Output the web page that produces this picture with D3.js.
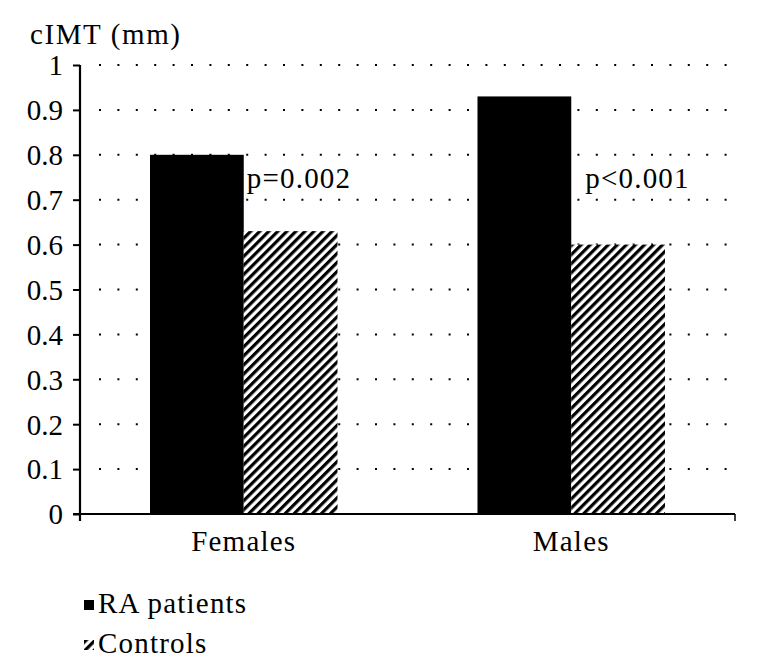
<!DOCTYPE html>
<html><head><meta charset="utf-8">
<script src="https://cdn.jsdelivr.net/npm/d3@7"></script>
<style>body{margin:0;background:#fff}svg{display:block}</style>
</head><body>
<script>
const categories = ["Females", "Males"];
const seriesNames = ["RA patients", "Controls"];
const raValues = [0.80, 0.93];
const controlValues = [0.63, 0.60];
const pLabels = ["p=0.002", "p<0.001"];
const yTicks = [0, 0.1, 0.2, 0.3, 0.4, 0.5, 0.6, 0.7, 0.8, 0.9, 1];

(function(){
const W = 757, H = 671;
const FONT = "'Liberation Serif', 'Times New Roman', serif";
const FS = "29px";
const svg = d3.select("body").append("svg").attr("width", W).attr("height", H)
  .attr("font-family", FONT);
const defs = svg.append("defs");
const pat = defs.append("pattern").attr("id","hatch").attr("patternUnits","userSpaceOnUse")
  .attr("width",6.4).attr("height",6.4).attr("patternTransform","rotate(45)");
pat.append("rect").attr("width",6.4).attr("height",6.4).attr("fill","#fff");
pat.append("line").attr("x1",1.6).attr("y1",0).attr("x2",1.6).attr("y2",6.4).attr("stroke","#000").attr("stroke-width",3.2);

const mLeft = 80, mRight = 735, mTop = 65, mBottom = 514;
const y = d3.scaleLinear().domain([0,1]).range([mBottom, mTop]);
const x0 = d3.scaleBand().domain(categories).range([mLeft, mRight]).paddingInner(0).paddingOuter(0);
const x1 = d3.scaleBand().domain(seriesNames).range([70, x0.bandwidth()-70]);

function txt(sel, ls){ return sel.attr("font-family", FONT).style("font-family", FONT).style("font-size", FS)
  .style("letter-spacing", (ls==null?1.2:ls)+"px").attr("fill","#000"); }

// gridlines
svg.append("g").selectAll("line").data(yTicks.filter(d=>d>0)).join("line")
  .attr("x1", mLeft+19).attr("x2", mRight).attr("y1", d=>y(d)).attr("y2", d=>y(d))
  .attr("stroke","#000").attr("stroke-width",2).attr("stroke-dasharray","2,16.4");

const data = categories.map((c,i)=>({cat:c, vals:[raValues[i], controlValues[i]]}));
const g = svg.append("g");
data.forEach(d=>{
  d.vals.forEach((v,j)=>{
    g.append("rect").attr("x", x0(d.cat)+x1(seriesNames[j])).attr("y", y(v))
      .attr("width", x1.bandwidth()).attr("height", mBottom - y(v))
      .attr("fill", j===0 ? "#000" : "url(#hatch)");
  });
});

// y axis
const yAxis = d3.axisLeft(y).tickValues(yTicks).tickSize(7).tickFormat(d=>d===0?"0":d===1?"1":d3.format(".1f")(d));
const ya = svg.append("g").attr("transform",`translate(${mLeft},0)`).call(yAxis);
ya.attr("font-family", FONT).attr("font-size", null);
ya.select(".domain").attr("stroke","#000").attr("stroke-width",2.2).attr("d",`M0,${mTop}V${mBottom+7}`);
ya.selectAll(".tick line").attr("stroke","#000").attr("stroke-width",2).attr("x2",-7);
txt(ya.selectAll(".tick text"), 0).attr("x",-17).attr("dy","0.34em");

// x axis
const xa = svg.append("g").attr("transform",`translate(0,${mBottom})`);
xa.append("line").attr("x1",mLeft-7).attr("x2",mRight).attr("stroke","#000").attr("stroke-width",2.2);
xa.append("line").attr("x1",mRight).attr("x2",mRight).attr("y1",0).attr("y2",7).attr("stroke","#000").attr("stroke-width",1.5);
txt(xa.selectAll("text").data(categories).join("text"))
  .attr("x", d=>x0(d)+x0.bandwidth()/2).attr("y", 37).attr("text-anchor","middle").text(d=>d);

// p labels
txt(svg.selectAll("text.p").data(categories).join("text").attr("class","p"))
  .attr("x",(d,i)=> i===0 ? x0(d)+x1(seriesNames[1])+3 : x0(d)+x1(seriesNames[1])+14)
  .attr("y", y(0.725)).text((d,i)=>pLabels[i]);

// title
txt(svg.append("text"), 1.6).attr("x",30).attr("y",44).text("cIMT (mm)");

// legend
const lg = svg.append("g");
seriesNames.forEach((s,i)=>{
  const yy = 613 + i*40;
  lg.append("rect").attr("x",84).attr("y",yy-13).attr("width",10).attr("height",10)
    .attr("fill", i===0 ? "#000" : "url(#hatch)");
  txt(lg.append("text")).attr("x",98).attr("y",yy).text(s);
});
})();
</script>
</body></html>
